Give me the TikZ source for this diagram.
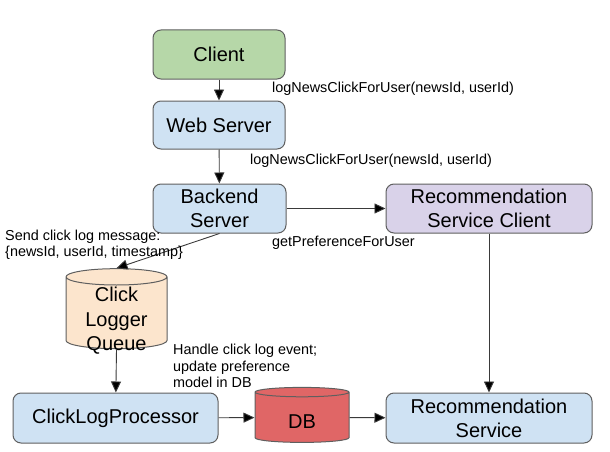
\documentclass[tikz,border=0pt]{standalone}
\usepackage{fontspec}
\setmainfont{Liberation Sans}
\usetikzlibrary{arrows.meta,shapes.geometric}

\definecolor{boxedge}{HTML}{5F5F5F}
\definecolor{lineclr}{HTML}{3A3A3A}
\definecolor{clientfill}{HTML}{B6D7A8}
\definecolor{serverfill}{HTML}{CFE2F3}
\definecolor{recfill}{HTML}{D9D2E9}
\definecolor{queuefill}{HTML}{FCE5CD}
\definecolor{dbfill}{HTML}{E06666}

\tikzset{
  box/.style={draw=boxedge, line width=1pt, rounded corners=8pt, align=center,
    inner sep=0pt, font=\fontsize{20}{24}\selectfont},
  store/.style={cylinder, shape border rotate=90, draw=boxedge, line width=1pt,
    align=center, inner sep=0pt, font=\fontsize{20}{24}\selectfont},
  conn/.style={draw=lineclr, line width=0.9pt, -{Triangle[length=11pt,width=10pt,fill=black]}},
  note/.style={align=left, inner sep=0pt, font=\fontsize{14.4}{16.5}\selectfont}
}

\begin{document}
\begin{tikzpicture}[x=1pt, y=-1pt]
    \useasboundingbox (0,0) rectangle (610,452);

    % Kairysis stulpelis
    \node[box, fill=clientfill, minimum width=132pt, minimum height=49pt] (client) at (219,54.5) {Client};
    \node[box, fill=serverfill, minimum width=132pt, minimum height=48pt] (web) at (219,125) {Web Server};
    \node[box, fill=serverfill, minimum width=133pt, minimum height=49pt] (backend) at (219.5,208.5) {Backend\\Server};

    % Rekomendacijos
    \node[box, fill=recfill, minimum width=206pt, minimum height=49pt] (recclient) at (489,208.5) {Recommendation\\Service Client};
    \node[box, fill=serverfill, minimum width=206pt, minimum height=50pt] (recservice) at (489,418) {Recommendation\\Service};

    % Eilė ir apdorojimas
    \node[store, fill=queuefill, aspect=1.05, minimum width=101pt, minimum height=80pt] (queue) at (116.5,313) {\phantom{Q}};
    \node[align=center, inner sep=0pt, font=\fontsize{20}{24.5}\selectfont] (queuetext) at (116.5,321) {Click\\Logger\\Queue};
    \node[box, fill=serverfill, minimum width=205pt, minimum height=50pt] (clp) at (115.5,418) {ClickLogProcessor};
    \node[store, fill=dbfill, aspect=0.65, minimum width=94pt, minimum height=55pt] (db) at (302,417.5) {\phantom{D}};
    \node[inner sep=0pt, font=\fontsize{20}{24}\selectfont] (dbtext) at (302,422) {DB};

    % Rodyklės
    \draw[conn] (client) -- (web);
    \draw[conn] (web) -- (backend);
    \draw[conn] (backend) -- (recclient);
    \draw[conn] (backend.south) -- (queue.north);
    \draw[conn] (queue.south) -- (clp);
    \draw[conn] (recclient) -- (recservice);
    \draw[conn] (clp) -- (db);
    \draw[conn] (db) -- (recservice);

    % Užrašai
    \node[note, anchor=west] (callweb) at (272,89) {logNewsClickForUser(newsId, userId)};
    \node[note, anchor=west] (callbackend) at (250,161) {logNewsClickForUser(newsId, userId)};
    \node[note, anchor=west] (callrec) at (272,243) {getPreferenceForUser};
    \node[note, anchor=west] (sendmsg) at (5,245) {Send click log message:\\\{newsId, userId, timestamp\}};
    \node[note, anchor=west] (handle) at (173,366) {Handle click log event;\\update preference\\model in DB};
\end{tikzpicture}
\end{document}
